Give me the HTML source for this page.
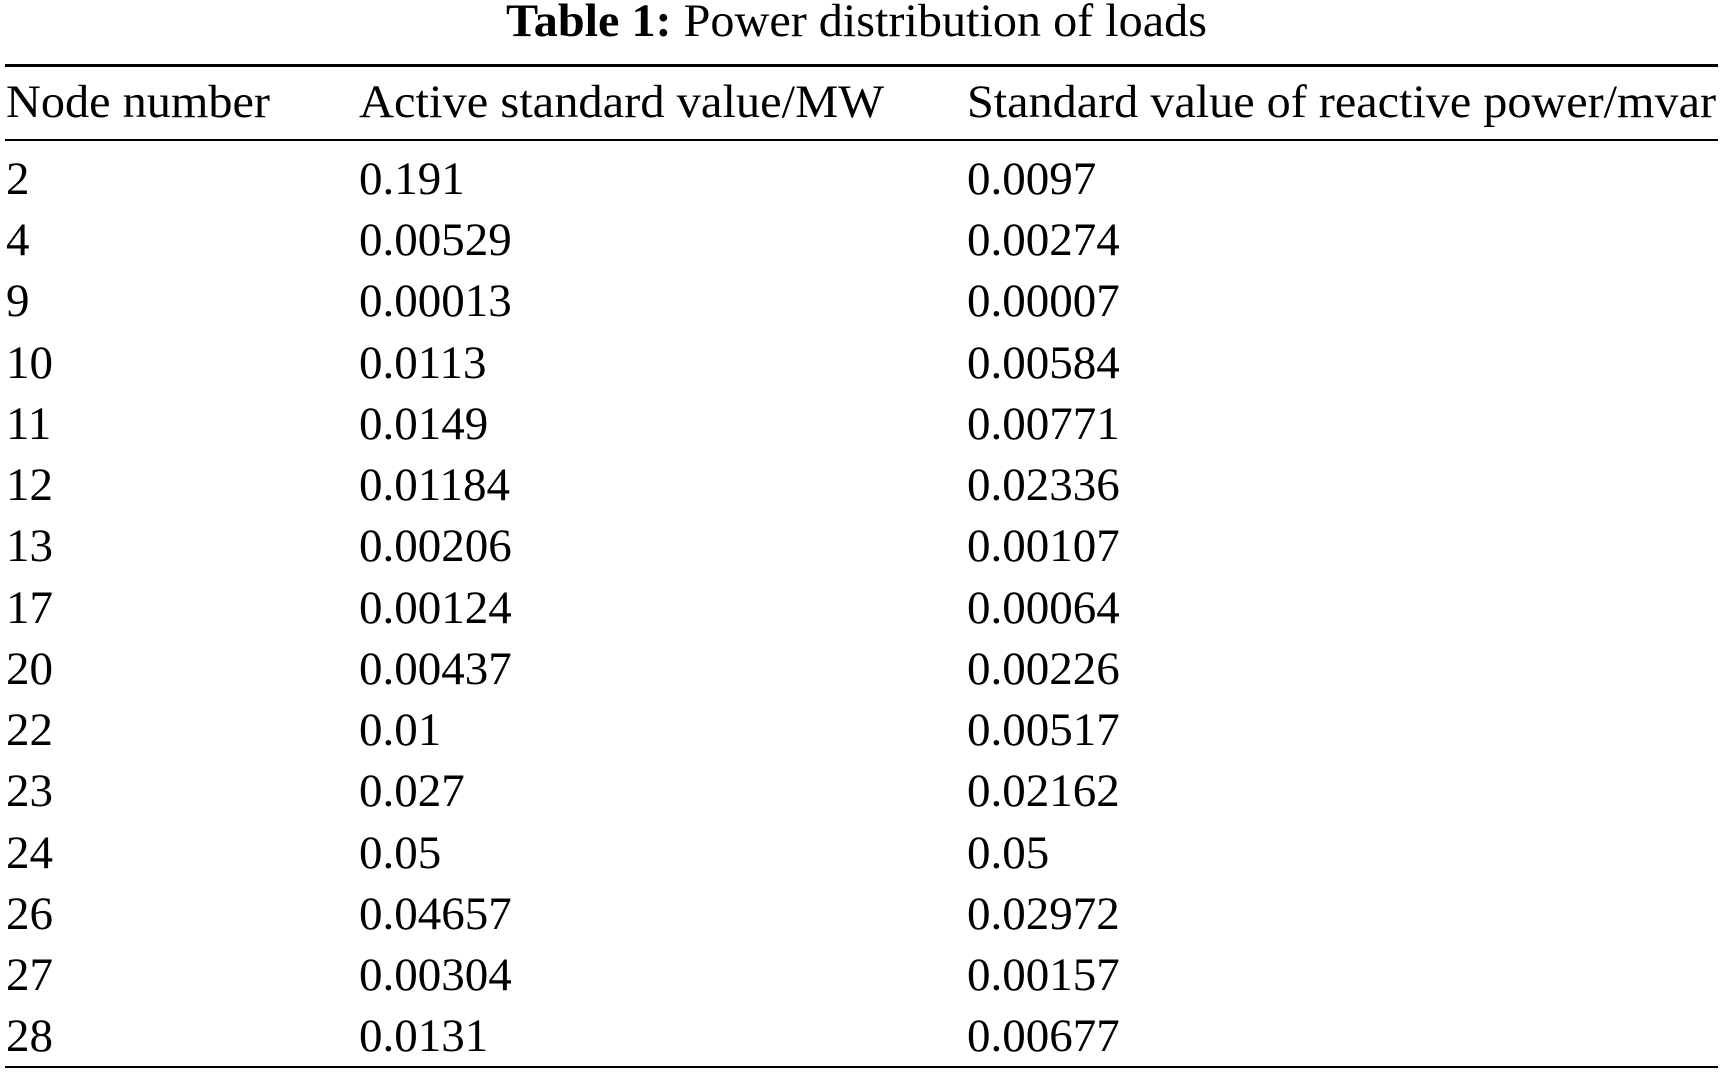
<!DOCTYPE html>
<html><head><meta charset="utf-8"><style>
html,body{margin:0;padding:0;background:#fff;}
svg{display:block;}
text{font-family:"Liberation Serif",serif;font-size:47px;fill:#000;}
</style></head><body>
<svg width="1721" height="1075" viewBox="0 0 1721 1075" xmlns="http://www.w3.org/2000/svg">
<text x="506" y="36" textLength="701" lengthAdjust="spacingAndGlyphs"><tspan font-weight="bold">Table 1:</tspan>  Power distribution of loads</text>
<rect x="5" y="64" width="1713" height="3" fill="#000"/>
<text x="6" y="117" textLength="264" lengthAdjust="spacingAndGlyphs">Node number</text>
<text x="359" y="117" textLength="525" lengthAdjust="spacingAndGlyphs">Active standard value/MW</text>
<text x="967" y="117" textLength="749" lengthAdjust="spacingAndGlyphs">Standard value of reactive power/mvar</text>
<rect x="5" y="139" width="1713" height="2" fill="#000"/>
<g>
<text x="6" y="194">2</text><text x="359" y="194">0.191</text><text x="967" y="194">0.0097</text>
<text x="6" y="255">4</text><text x="359" y="255">0.00529</text><text x="967" y="255">0.00274</text>
<text x="6" y="316">9</text><text x="359" y="316">0.00013</text><text x="967" y="316">0.00007</text>
<text x="6" y="378">10</text><text x="359" y="378">0.0113</text><text x="967" y="378">0.00584</text>
<text x="6" y="439">11</text><text x="359" y="439">0.0149</text><text x="967" y="439">0.00771</text>
<text x="6" y="500">12</text><text x="359" y="500">0.01184</text><text x="967" y="500">0.02336</text>
<text x="6" y="561">13</text><text x="359" y="561">0.00206</text><text x="967" y="561">0.00107</text>
<text x="6" y="623">17</text><text x="359" y="623">0.00124</text><text x="967" y="623">0.00064</text>
<text x="6" y="684">20</text><text x="359" y="684">0.00437</text><text x="967" y="684">0.00226</text>
<text x="6" y="745">22</text><text x="359" y="745">0.01</text><text x="967" y="745">0.00517</text>
<text x="6" y="806">23</text><text x="359" y="806">0.027</text><text x="967" y="806">0.02162</text>
<text x="6" y="868">24</text><text x="359" y="868">0.05</text><text x="967" y="868">0.05</text>
<text x="6" y="929">26</text><text x="359" y="929">0.04657</text><text x="967" y="929">0.02972</text>
<text x="6" y="990">27</text><text x="359" y="990">0.00304</text><text x="967" y="990">0.00157</text>
<text x="6" y="1051">28</text><text x="359" y="1051">0.0131</text><text x="967" y="1051">0.00677</text>
</g>
<rect x="5" y="1066" width="1713" height="2" fill="#000"/>
</svg>
</body></html>
